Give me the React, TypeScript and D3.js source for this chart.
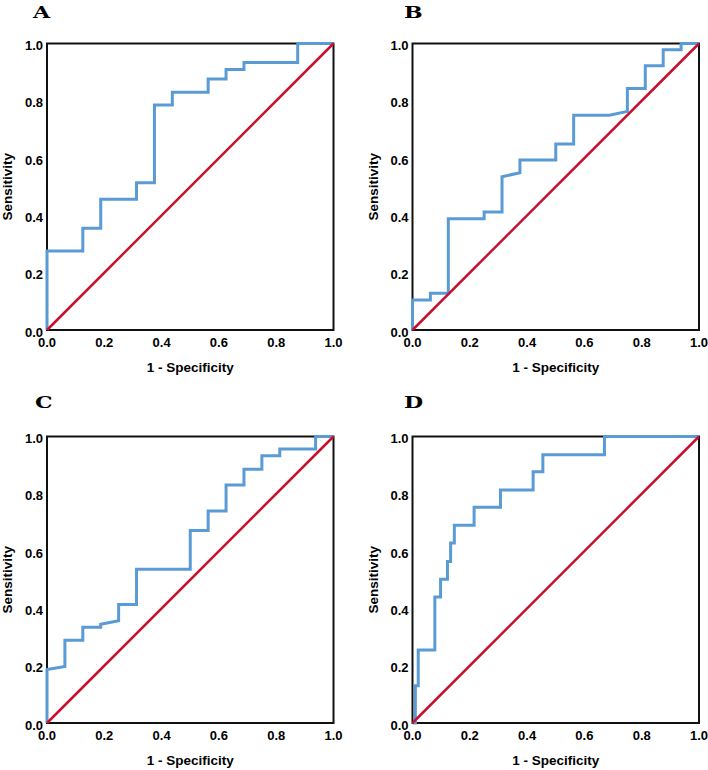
import React from 'react';
import * as d3 from 'd3';

// ROC points (1 - specificity, sensitivity)
const fprA = [0, 0, 0.125, 0.125, 0.1875, 0.1875, 0.3125, 0.3125, 0.375, 0.375, 0.4375, 0.4375, 0.5625, 0.5625, 0.625, 0.625, 0.6875, 0.6875, 0.875, 0.875, 1];
const tprA = [0, 0.276, 0.276, 0.355, 0.355, 0.456, 0.456, 0.514, 0.514, 0.785, 0.785, 0.83, 0.83, 0.876, 0.876, 0.909, 0.909, 0.934, 0.934, 1, 1];

const fprB = [0, 0, 0.0625, 0.0625, 0.125, 0.125, 0.25, 0.25, 0.3125, 0.3125, 0.375, 0.375, 0.5, 0.5, 0.5625, 0.5625, 0.6875, 0.75, 0.75, 0.8125, 0.8125, 0.875, 0.875, 0.9375, 0.9375, 1];
const tprB = [0, 0.105, 0.105, 0.128, 0.128, 0.388, 0.388, 0.412, 0.412, 0.535, 0.549, 0.593, 0.593, 0.649, 0.649, 0.75, 0.75, 0.763, 0.843, 0.843, 0.922, 0.922, 0.978, 0.978, 1, 1];

const fprC = [0, 0, 0.0625, 0.0625, 0.125, 0.125, 0.1875, 0.1875, 0.25, 0.25, 0.3125, 0.3125, 0.5, 0.5, 0.5625, 0.5625, 0.625, 0.625, 0.6875, 0.6875, 0.75, 0.75, 0.8125, 0.8125, 0.9375, 0.9375, 1];
const tprC = [0, 0.187, 0.197, 0.289, 0.289, 0.334, 0.334, 0.345, 0.357, 0.414, 0.414, 0.537, 0.537, 0.672, 0.672, 0.74, 0.74, 0.831, 0.831, 0.886, 0.886, 0.933, 0.933, 0.956, 0.956, 1, 1];

const fprD = [0, 0.01, 0.01, 0.02, 0.02, 0.078, 0.078, 0.098, 0.098, 0.122, 0.122, 0.133, 0.133, 0.146, 0.146, 0.215, 0.215, 0.307, 0.307, 0.421, 0.421, 0.455, 0.455, 0.67, 0.67, 1];
const tprD = [0, 0, 0.13, 0.13, 0.255, 0.255, 0.44, 0.44, 0.502, 0.502, 0.564, 0.564, 0.628, 0.628, 0.69, 0.69, 0.753, 0.753, 0.813, 0.813, 0.877, 0.877, 0.936, 0.936, 1, 1];

const panelLabels = ['A', 'B', 'C', 'D'];
const tickValues = [0, 0.2, 0.4, 0.6, 0.8, 1.0];

const BLUE = '#5b9bd5';
const RED = '#c8102e';
const SANS = '"Liberation Sans", Arial, sans-serif';

type PanelProps = {
  label: string;
  fpr: number[];
  tpr: number[];
  left: number;
  top: number;
  labelX: number;
  labelY: number;
};

function Panel({ label, fpr, tpr, left, top, labelX, labelY }: PanelProps) {
  const size = 286.5;
  const x = d3.scaleLinear().domain([0, 1]).range([left, left + size]);
  const y = d3.scaleLinear().domain([0, 1]).range([top + size, top]);
  const pts: [number, number][] = fpr.map((f, i) => [f, tpr[i]]);
  const line = d3
    .line<[number, number]>()
    .x((d) => x(d[0]))
    .y((d) => y(d[1]));
  const bottom = y(0);

  return (
    <g>
      <text
        x={labelX}
        y={labelY}
        fontFamily='"DejaVu Serif", serif'
        fontWeight="bold"
        fontSize={17}
        transform={`translate(${labelX},0) scale(1.3,1) translate(${-labelX},0)`}
      >
        {label}
      </text>
      <rect x={left} y={top} width={size} height={size} fill="none" stroke="#111" strokeWidth={2} />
      {tickValues.map((t) => (
        <text
          key={'y' + t}
          x={left - 4}
          y={y(t) + 6.5}
          textAnchor="end"
          fontFamily={SANS}
          fontWeight="bold"
          fontSize={13}
        >
          {t.toFixed(1)}
        </text>
      ))}
      {tickValues.map((t) => (
        <text
          key={'x' + t}
          x={x(t)}
          y={bottom + 17}
          textAnchor="middle"
          fontFamily={SANS}
          fontWeight="bold"
          fontSize={13}
        >
          {t.toFixed(1)}
        </text>
      ))}
      <text
        x={left + size / 2}
        y={bottom + 42}
        textAnchor="middle"
        fontFamily={SANS}
        fontWeight="bold"
        fontSize={13.5}
      >
        1 - Specificity
      </text>
      <text
        transform={`translate(${left - 35},${top + size / 2}) rotate(-90)`}
        textAnchor="middle"
        fontFamily={SANS}
        fontWeight="bold"
        fontSize={13.5}
      >
        Sensitivity
      </text>
      <path d={line(pts) || ''} fill="none" stroke={BLUE} strokeWidth={3} strokeLinejoin="miter" />
      <line x1={x(0)} y1={y(0)} x2={x(1)} y2={y(1)} stroke={RED} strokeWidth={2.5} />
    </g>
  );
}

export default function App() {
  const data = [
    { fpr: fprA, tpr: tprA, left: 47, top: 43.5, labelX: 33, labelY: 18 },
    { fpr: fprB, tpr: tprB, left: 412.5, top: 43.5, labelX: 404, labelY: 18 },
    { fpr: fprC, tpr: tprC, left: 47, top: 436.5, labelX: 35, labelY: 408 },
    { fpr: fprD, tpr: tprD, left: 412.5, top: 436.5, labelX: 404, labelY: 408 },
  ];
  return (
    <svg
      width={708}
      height={770}
      style={{ position: 'absolute', left: 0, top: 0, background: '#fff' }}
    >
      <rect width={708} height={770} fill="#fff" />
      {data.map((d, i) => (
        <Panel key={panelLabels[i]} label={panelLabels[i]} {...d} />
      ))}
    </svg>
  );
}
